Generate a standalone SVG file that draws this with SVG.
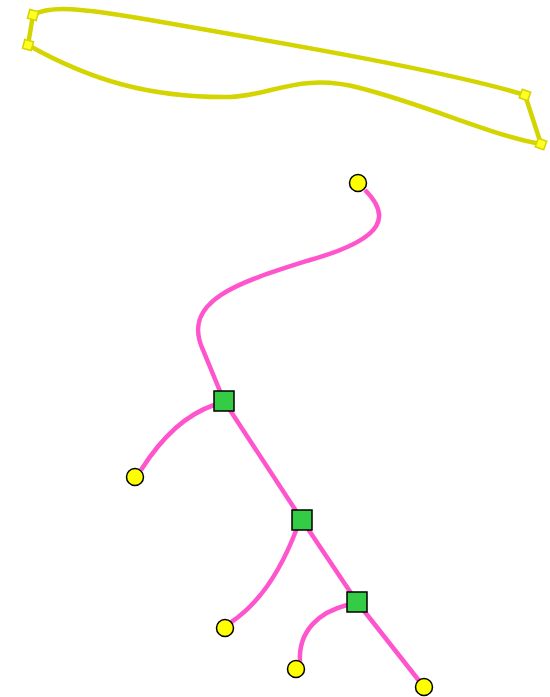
<svg xmlns="http://www.w3.org/2000/svg" width="550" height="697" viewBox="0 0 550 697">
<style>
.y{fill:none;stroke:#d4d400;stroke-width:4.5;stroke-linecap:round}
.h{fill:#ffff22;stroke:#d4d400;stroke-width:1.5}
.e{fill:none;stroke:#ff55cc;stroke-width:4.5}
.c{fill:#ffff00;stroke:#000;stroke-width:1.5}
.s{fill:#33cc44;stroke:#000;stroke-width:1.5}
</style>
<rect width="550" height="697" fill="#fff"/>
<g id="outline">
<path class="y" d="M33,15 C50,5 80,8 150,20 C300,46 450,72 525,95"/>
<path class="y" d="M28,45 C90,80 150,98 230,97 C270,96 300,72 360,88 C430,106 490,135 541,144"/>
<path class="y" d="M33,15 L28,45"/>
<path class="y" d="M525,95 L541,144"/>
<rect class="h" x="-4.5" y="-4.5" width="9" height="9" transform="translate(33,15) rotate(15)"/>
<rect class="h" x="-4.5" y="-4.5" width="9" height="9" transform="translate(28,45) rotate(15)"/>
<rect class="h" x="-4.5" y="-4.5" width="9" height="9" transform="translate(525,95) rotate(20)"/>
<rect class="h" x="-4.5" y="-4.5" width="9" height="9" transform="translate(541,144) rotate(20)"/>
</g>
<g id="connectors">
<path class="e" d="M365,190 C390,215 388,238 310,260 C240,282 180,300 203,350 L224,401"/>
<path class="e" d="M214,405 C185,415 160,440 141,470"/>
<path class="e" d="M224,401 L302,520"/>
<path class="e" d="M297,528 C285,560 265,600 230,623"/>
<path class="e" d="M302,520 L357,602"/>
<path class="e" d="M347,605 C320,612 298,630 300,662"/>
<path class="e" d="M357,602 L424,687"/>
</g>
<g id="n1"><circle class="c" cx="358" cy="183" r="8.5"/></g>
<g id="n2"><rect class="s" x="214" y="391" width="20" height="20"/></g>
<g id="n3"><circle class="c" cx="135" cy="477" r="8.5"/></g>
<g id="n4"><rect class="s" x="292" y="510" width="20" height="20"/></g>
<g id="n5"><circle class="c" cx="225" cy="628" r="8.5"/></g>
<g id="n6"><rect class="s" x="347" y="592" width="20" height="20"/></g>
<g id="n7"><circle class="c" cx="296" cy="669" r="8.5"/></g>
<g id="n8"><circle class="c" cx="424" cy="687" r="8.5"/></g>
</svg>
